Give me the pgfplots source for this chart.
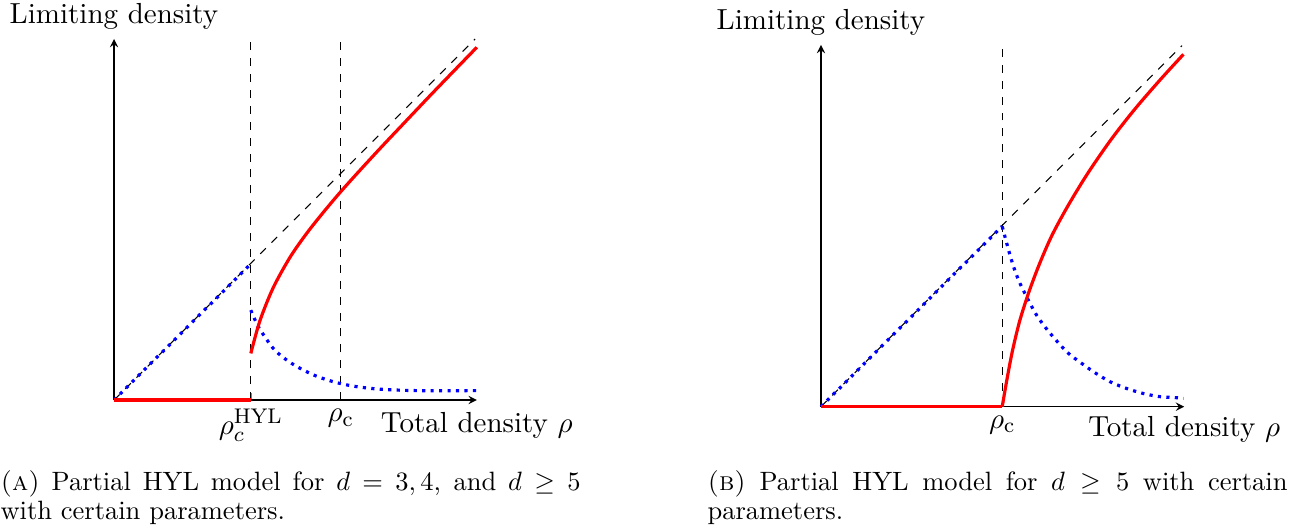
\documentclass[border=0pt]{standalone}
\usepackage{pgfplots}
\pgfplotsset{compat=1.18}

\begin{document}
\begin{tikzpicture}
% page: 1300 x 531 px, 1 px = 0.37736pt
\useasboundingbox (0pt,0pt) rectangle (490.57pt,200.38pt);

\pgfplotsset{
    hylaxis/.style={
        x=13.623pt, y=13.623pt,
        axis lines=left,
        xmin=0, ymin=0,
        ytick=\empty,
        tick align=inside,
        major tick length=2.6pt,
        clip=false,
        every axis x label/.style={at={(axis description cs:1,0)}, anchor=north},
        every axis y label/.style={at={(axis description cs:0,1)}, anchor=south},
        label style={font=\fontsize{10.95}{13.6}\selectfont},
        ticklabel style={font=\fontsize{10.95}{13.6}\selectfont},
        xlabel={Total density $\rho$},
        ylabel={Limiting density},
    },
    redcurve/.style={red, very thick},
    bluecurve/.style={blue, very thick, dotted},
    guide/.style={black, thin, dashed},
}

% (a) d = 3,4 and d >= 5
\begin{axis}[
    hylaxis,
    at={(43.02pt,49.43pt)}, anchor=south west,
    xmax=10.05, ymax=10,
    xtick={3.79,6.28},
    xticklabels={$\rho_c^{\mathrm{HYL}}$, $\rho_{\mathrm{c}}$},
    xlabel style={yshift=-1.2pt},
]
    \addplot[guide] coordinates {(0,0) (10,10)};
    \addplot[guide] coordinates {(3.79,0) (3.79,10.07)};
    \addplot[guide] coordinates {(6.28,0) (6.28,10.07)};
    % dotted curve
    \addplot[bluecurve] coordinates {(0,0) (3.79,3.77)};
    \addplot[bluecurve, smooth] coordinates {
        (3.79,2.49) (4.00,2.03) (4.41,1.43) (4.78,1.11) (5.15,0.88)
        (5.61,0.66) (6.17,0.48) (6.72,0.37) (7.37,0.30) (8.38,0.26) (10.05,0.26)};
    % solid curve
    \addplot[redcurve] coordinates {(0,0) (3.79,0)};
    \addplot[redcurve, smooth] coordinates {
        (3.79,1.29) (4.04,2.19) (4.41,3.11) (4.88,3.96) (5.34,4.62) (5.80,5.20)
        (6.28,5.77) (6.81,6.36) (7.40,7.00) (7.92,7.55) (8.85,8.53) (10.05,9.77)};
\end{axis}

% (b) d >= 5
\begin{axis}[
    hylaxis,
    at={(309.81pt,46.91pt)}, anchor=south west,
    xmax=10.06, ymax=10.02,
    xtick={5.02},
    xticklabels={$\rho_{\mathrm{c}}$},
]
    \addplot[guide] coordinates {(0,0) (10,10)};
    \addplot[guide] coordinates {(5.02,0) (5.02,10.06)};
    \addplot[bluecurve] coordinates {(0,0) (5.02,5.0)};
    \addplot[bluecurve, smooth] coordinates {
        (5.02,4.99) (5.21,4.29) (5.35,3.83) (5.51,3.42) (5.72,3.00) (5.95,2.57)
        (6.22,2.19) (6.53,1.82) (6.85,1.48) (7.22,1.20) (7.59,0.94) (8.01,0.69)
        (8.45,0.51) (8.91,0.37) (9.37,0.28) (9.83,0.25) (10.04,0.23)};
    \addplot[redcurve] coordinates {(0,0) (5.02,0)};
    \addplot[redcurve, smooth] coordinates {
        (5.02,0) (5.15,0.75) (5.30,1.53) (5.50,2.36) (5.75,3.15) (6.05,3.95)
        (6.40,4.75) (6.85,5.58) (7.40,6.48) (8.05,7.42) (8.70,8.25) (9.40,9.06)
        (10.04,9.76)};
\end{axis}

\tikzset{caption/.style={anchor=base west, inner sep=0, text width=218.9pt,
    align=justify, font=\fontsize{10}{11.3}\selectfont}}
\node[caption] at (0pt,15.47pt)
    {\textsc{(a)} Partial HYL model for $d=3,4$, and $d\geq 5$ with certain \mbox{parameters.}};
\node[caption] at (266.79pt,15.47pt)
    {\textsc{(b)} Partial HYL model for $d\geq 5$ with certain \mbox{parameters.}};
\end{tikzpicture}
\end{document}
